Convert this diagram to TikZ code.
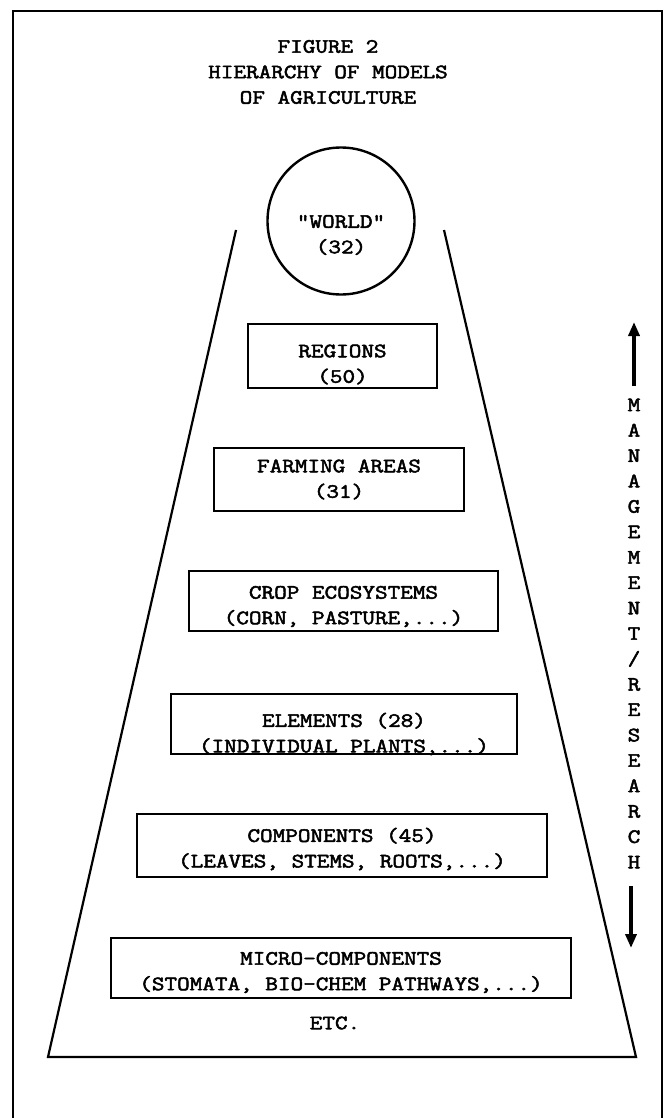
\documentclass[tikz,border=0pt]{standalone}
\usepackage{fontspec}
\newfontfamily\typewriter{Latin Modern Mono}[FakeStretch=1.2,FakeBold=2.5]
\usetikzlibrary{arrows.meta,positioning}

\begin{document}
\begin{tikzpicture}[x=1pt,y=-1pt,
box/.style={draw,line width=2.6pt,inner sep=0pt},
txt/.style={align=center,inner sep=0pt,font=\typewriter\fontsize{20.4pt}{25.5pt}\selectfont},
edge/.style={line width=2.2pt},
arr/.style={-{Triangle[length=14pt,width=11pt]},line width=4pt}
]
\useasboundingbox (0,0) rectangle (669,1118);
% frame and title
\draw[line width=2pt] (13,1118) -- (13,11) -- (662,11) -- (662,1118);
\node[txt] (title) at (328,72) {FIGURE 2\\HIERARCHY OF MODELS\\OF AGRICULTURE};
% pyramid
\draw[edge] (236,230) -- (48,1057) -- (636,1057) -- (444,230);
\node[circle,draw,line width=2.4pt,minimum size=147pt,inner sep=0pt] (world) at (341,221) {};
\node[txt] (world label) at ([yshift=-14pt]world.center) {"WORLD"\\(32)};
% levels
\node[box,minimum width=189pt,minimum height=64pt] (regions) at (342.5,356) {};
\node[txt] (regions label) at ([yshift=-8.5pt]regions.center) {REGIONS\\(50)};
\node[box,minimum width=250pt,minimum height=63pt] (farming) at (339,479.5) {};
\node[txt] (farming label) at (farming.center) {FARMING AREAS\\(31)};
\node[box,minimum width=309pt,minimum height=60pt] (crop) at (343.5,601) {};
\node[txt] (crop label) at ([yshift=-5.5pt]crop.center) {CROP ECOSYSTEMS\\(CORN, PASTURE,...)};
\node[box,minimum width=346pt,minimum height=60pt] (elements) at (344,724) {};
\node[txt] (elements label) at ([yshift=-10pt]elements.center) {ELEMENTS (28)\\(INDIVIDUAL PLANTS,...)};
\node[box,minimum width=410pt,minimum height=63pt] (components) at (342,845.5) {};
\node[txt] (components label) at ([yshift=-3.5pt]components.center) {COMPONENTS (45)\\(LEAVES, STEMS, ROOTS,...)};
\node[box,minimum width=460pt,minimum height=60pt] (micro) at (341,968) {};
\node[txt] (micro label) at ([yshift=-4.5pt]micro.center) {MICRO-COMPONENTS\\(STOMATA, BIO-CHEM PATHWAYS,...)};
\node[txt] (etc) at (335,1023) {ETC.};
% side direction
\node[txt,font=\typewriter\fontsize{20.4pt}{25.4pt}\selectfont] (mr) at (634,633.5) {M\\A\\N\\A\\G\\E\\M\\E\\N\\T\\/\\R\\E\\S\\E\\A\\R\\C\\H};
\coordinate (up foot) at (634,386);
\coordinate (up tip) at (634,322);
\coordinate (down foot) at (631,886);
\coordinate (down tip) at (631,948);
\draw[arr] (up foot) -- (up tip);
\draw[arr] (down foot) -- (down tip);
\end{tikzpicture}
\end{document}
